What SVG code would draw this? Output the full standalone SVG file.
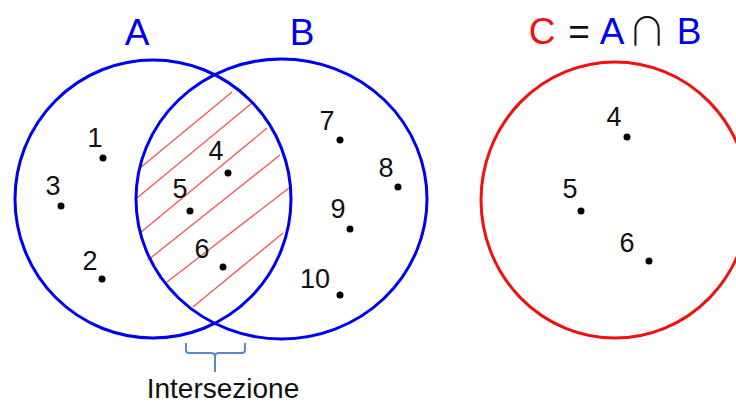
<svg xmlns="http://www.w3.org/2000/svg" width="736" height="405" viewBox="0 0 736 405">
<style>
.set{fill:none;stroke-width:3}
.blue{stroke:#0000f0}
.red{stroke:#f01010}
.hatch{stroke:#f25555;stroke-width:1.3}
.num{font-family:"Liberation Sans",Arial,sans-serif;font-size:27px;fill:#111;text-anchor:middle}
.title{font-family:"Liberation Sans",Arial,sans-serif;font-size:37px;text-anchor:middle}
.dot{fill:#000}
</style>
<rect width="736" height="405" fill="#fff"/>
<g id="hatching">
<line class="hatch" x1="140" y1="168" x2="232" y2="92"/>
<line class="hatch" x1="137" y1="198" x2="252" y2="103"/>
<line class="hatch" x1="140" y1="233" x2="267" y2="128"/>
<line class="hatch" x1="148" y1="260" x2="280" y2="155"/>
<line class="hatch" x1="167" y1="282" x2="289" y2="188"/>
<line class="hatch" x1="193" y1="307" x2="283" y2="233"/>
</g>
<g id="setA">
<ellipse class="set blue" cx="153" cy="199" rx="138" ry="139"/>
<text class="title" x="137" y="45" fill="#0000f0">A</text>
</g>
<g id="setB">
<ellipse class="set blue" cx="281.5" cy="199" rx="145.5" ry="140"/>
<text class="title" x="302" y="45" fill="#0000f0">B</text>
</g>
<g id="setC">
<ellipse class="set red" cx="615" cy="200" rx="134" ry="138"/>
<text class="title" x="542" y="44" fill="#f01010">C</text>
<text class="title" x="579" y="44" fill="#111">=</text>
<text class="title" x="612" y="44" fill="#0000f0">A</text>
<text x="647" y="45" fill="#111" text-anchor="middle" font-family="'Noto Sans CJK JP',sans-serif" font-size="39" font-weight="300">∩</text>
<text class="title" x="689" y="44" fill="#0000f0">B</text>
</g>
<g id="elements">
<circle class="dot" cx="103" cy="158" r="3.5"/><text class="num" x="95" y="147">1</text>
<circle class="dot" cx="61" cy="206" r="3.5"/><text class="num" x="53" y="195">3</text>
<circle class="dot" cx="102" cy="279" r="3.5"/><text class="num" x="90" y="270">2</text>
<circle class="dot" cx="228" cy="173" r="3.5"/><text class="num" x="216" y="160">4</text>
<circle class="dot" cx="190" cy="211" r="3.5"/><text class="num" x="180" y="198">5</text>
<circle class="dot" cx="223" cy="267" r="3.5"/><text class="num" x="202" y="258">6</text>
<circle class="dot" cx="340" cy="140" r="3.5"/><text class="num" x="327" y="130">7</text>
<circle class="dot" cx="398" cy="187" r="3.5"/><text class="num" x="386" y="177">8</text>
<circle class="dot" cx="350" cy="229" r="3.5"/><text class="num" x="338" y="218">9</text>
<circle class="dot" cx="340" cy="295" r="3.5"/><text class="num" x="315" y="288">10</text>
<circle class="dot" cx="627" cy="137" r="3.5"/><text class="num" x="614" y="126">4</text>
<circle class="dot" cx="581" cy="211" r="3.5"/><text class="num" x="570" y="198">5</text>
<circle class="dot" cx="649" cy="261" r="3.5"/><text class="num" x="627" y="252">6</text>
</g>
<g id="intersezione">
<path d="M186 343 V350 Q186 353 189 353 H211 Q215 353 215 356 V372 M215 356 Q215 353 219 353 H242 Q245 353 245 350 V343" fill="none" stroke="#5b88c4" stroke-width="2"/>
<text x="223" y="398" font-family="'Liberation Sans',Arial,sans-serif" font-size="28" fill="#111" text-anchor="middle">Intersezione</text>
</g>
</svg>
